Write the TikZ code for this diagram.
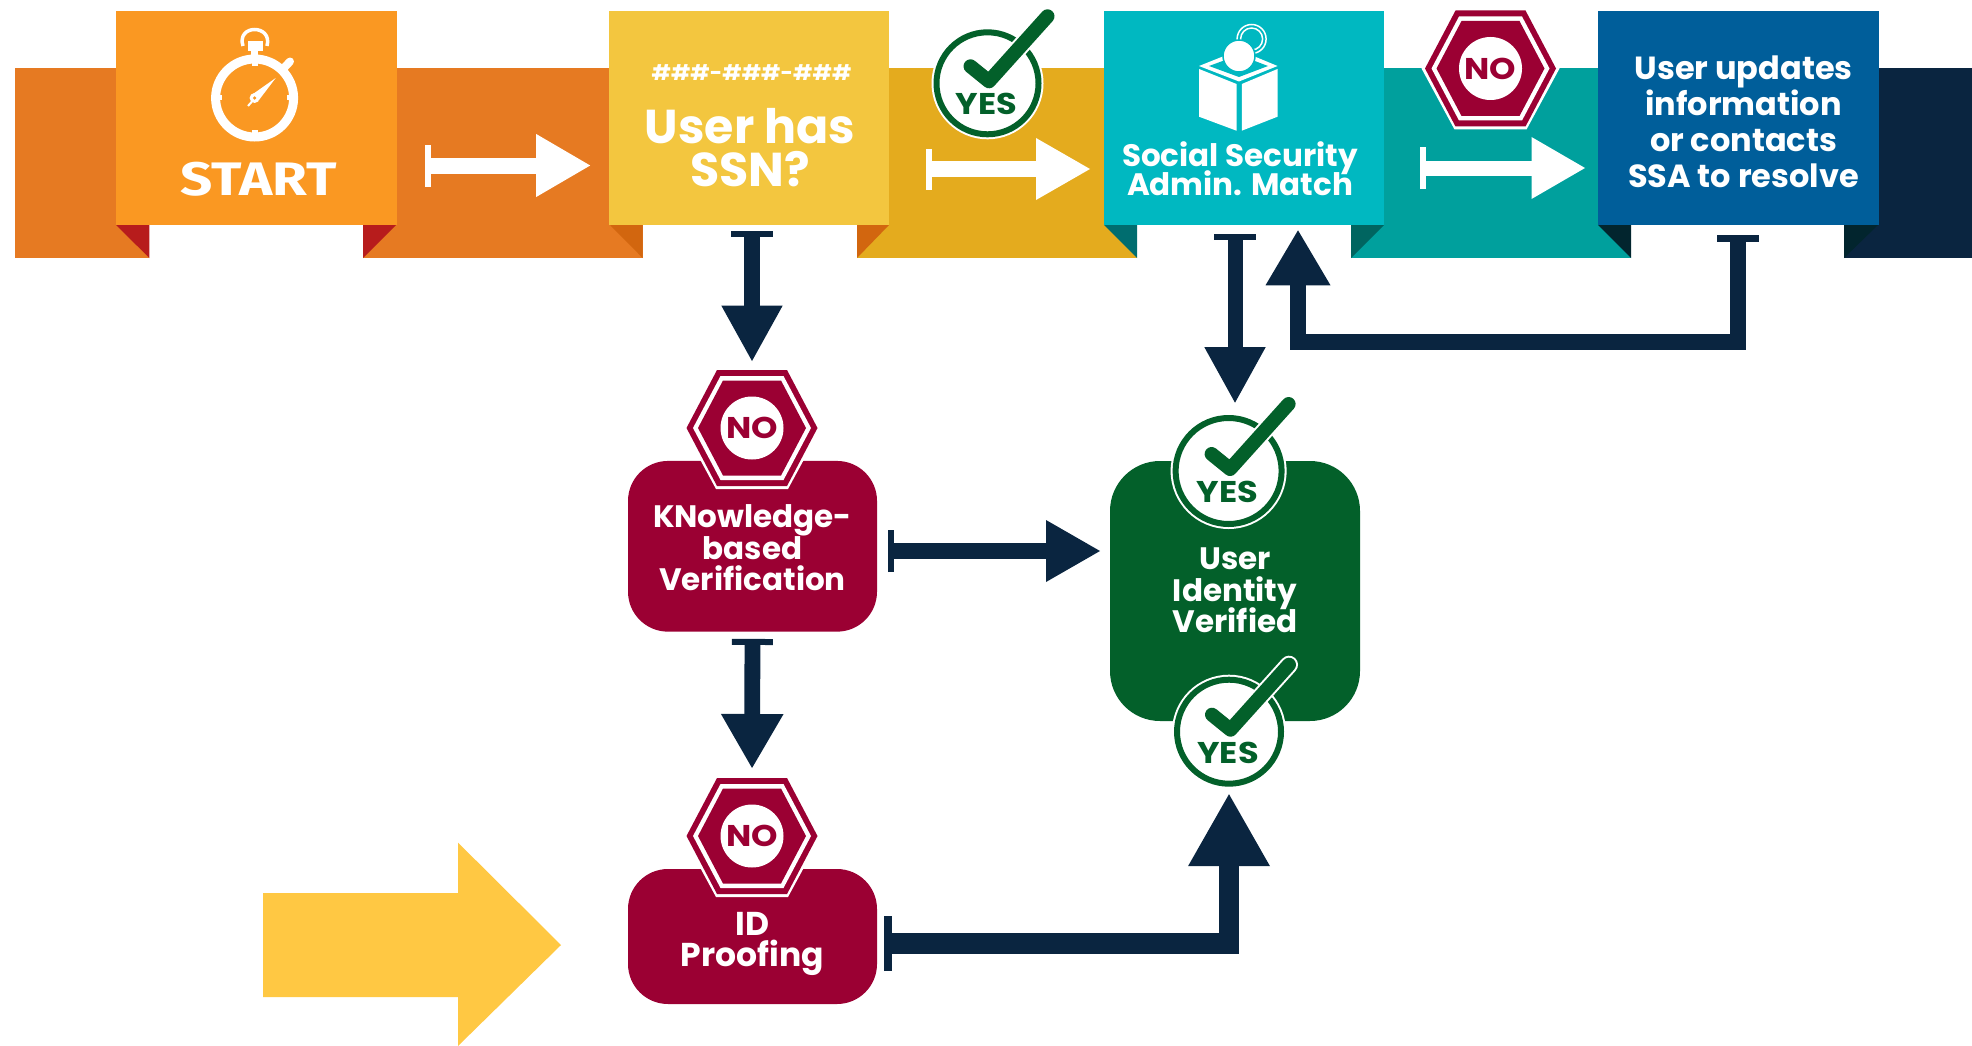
\documentclass[tikz,border=0pt]{standalone}
\usepackage{fontspec}
\setmainfont{Poppins}
\newfontfamily\din[FakeStretch=1.2]{Fira Sans}
\newfontfamily\popw[FakeStretch=1.12]{Poppins}
\usetikzlibrary{arrows.meta,calc}
\definecolor{navy}{HTML}{0A2540}
\definecolor{maroon}{HTML}{9B0033}
\definecolor{forest}{HTML}{03602A}
\definecolor{orbox}{HTML}{FA9822}
\definecolor{orband}{HTML}{E67A22}
\definecolor{ylbox}{HTML}{F3C63F}
\definecolor{ylband}{HTML}{E4AB1E}
\definecolor{tlbox}{HTML}{00B8C1}
\definecolor{tlband}{HTML}{00A09D}
\definecolor{blbox}{HTML}{005E9A}
\definecolor{dkred}{HTML}{B71C1C}
\definecolor{dkor}{HTML}{D2660F}
\definecolor{dktl}{HTML}{006D6F}
\definecolor{dktlb}{HTML}{006560}
\definecolor{dknavy}{HTML}{02252E}
\definecolor{bigarrow}{HTML}{FFC843}
\newcommand{\tightl}{\lineskiplimit=-100pt\relax}
\tikzset{
  boxn/.style={rectangle,minimum width=#1,inner sep=0pt,outer sep=0pt,minimum height=214pt},
  rbox/.style={rectangle,rounded corners=40pt,fill=maroon,inner sep=0pt,outer sep=0pt,minimum width=249pt},
  lab/.style={text=white,font=\bfseries\fontsize{31}{31.5}\selectfont\tightl,align=center,inner sep=0pt},
  blockarrow/.style n args={6}{line width=#2,draw=#1,
    {Bar[width=#5,line width=#6]}-{Triangle[length=#3,width=#4,line width=0pt]}},
}
\newcommand{\yesbadge}[5]{% name, x, y, r, tip x
  \fill[white] (#2,#3) circle (#4+5);
  \node[circle,draw=forest,fill=white,line width=6pt,minimum size=2*#4*1pt,inner sep=0pt,outer sep=4pt] (#1) at (#2,#3) {};
  \draw[white,line width=18pt,line cap=round,line join=round] ($(#2,#3)+(-17,-17)$) -- ($(#2,#3)+(1.5,-2)$) -- ($(#2,#3)+(#5,-67)$);
  \draw[forest,line width=14pt,line cap=round,line join=round] ($(#2,#3)+(-17,-17)$) -- ($(#2,#3)+(1.5,-2)$) -- ($(#2,#3)+(#5,-67)$);
  \node[text=forest,font=\popw\bfseries\fontsize{30}{30}\selectfont,inner sep=0pt] (#1t) at ($(#2,#3)+(-1,21)$) {YES};
}
\newcommand{\nohex}[3]{% name,x,y
  \begin{scope}[shift={(#2,#3)}]
    \fill[white] (-69,0)--(-36,-61)--(36,-61)--(69,0)--(36,61)--(-36,61)--cycle;
    \fill[maroon] (-65.5,0)--(-35,-58)--(35,-58)--(65.5,0)--(35,58)--(-35,58)--cycle;
    \fill[white] (-59,0)--(-31.5,-52)--(31.5,-52)--(59,0)--(31.5,52)--(-31.5,52)--cycle;
    \fill[maroon] (-54,0)--(-29,-47.5)--(29,-47.5)--(54,0)--(29,47.5)--(-29,47.5)--cycle;
    \fill[white] (0,0) circle (31.5);
  \end{scope}
  \node[rectangle,minimum width=131pt,minimum height=116pt,inner sep=0pt,outer sep=0pt] (#1) at (#2,#3) {};
  \node[text=maroon,font=\popw\bfseries\fontsize{30}{30}\selectfont,inner sep=0pt] (#1t) at (#2,#3) {NO};
}
\begin{document}
\begin{tikzpicture}[x=1pt,y=-1pt]
\useasboundingbox (0,0) rectangle (1972,1046);
% ribbon bands
\fill[orband] (15,68) rectangle (149,258);
\fill[orband] (363,68) rectangle (642.7,258);
\fill[ylband] (857,68) rectangle (1137,258);
\fill[tlband] (1351,68) rectangle (1631,258);
\fill[navy] (1844,68) rectangle (1972,258);
% folds
\fill[dkred] (116,225)--(149.4,225)--(149.4,258)--cycle;
\fill[dkred] (396,225)--(363,225)--(363,258)--cycle;
\fill[dkor] (610,225)--(642.7,225)--(642.7,258)--cycle;
\fill[dkor] (889,225)--(857,225)--(857,258)--cycle;
\fill[dktl] (1104,225)--(1137,225)--(1137,258)--cycle;
\fill[dktlb] (1384,225)--(1351,225)--(1351,258)--cycle;
\fill[dknavy] (1598,225)--(1631,225)--(1631,258)--cycle;
\fill[dknavy] (1878,225)--(1844,225)--(1844,258)--cycle;
% header boxes
\node[boxn=281pt,fill=orbox] (startbox) at (256,118.3) {};
\node[boxn=280pt,fill=ylbox] (ssnbox) at (749.2,118.3) {};
\node[boxn=280.4pt,fill=tlbox] (ssabox) at (1244.2,118.3) {};
\node[boxn=280.6pt,fill=blbox] (updbox) at (1738.3,118.3) {};
% stopwatch
\draw[white,line width=9pt] (254.6,98) circle (39);
\foreach \a/\b/\c/\d in {252/56/257.5/66, 252/130/257.5/140, 212/95.5/222/100.5, 287/95.5/297/100.5}
  \fill[white] (\a,\b) rectangle (\c,\d);
\fill[white] (247.5,40.7) rectangle (263,50.7);
\fill[white] (251,50) rectangle (258,56);
\draw[white,line width=3.5pt] (243,46) .. controls (236,24) and (273,24) .. (267,46);
\draw[white,line width=8pt,line cap=round] (283,69) -- (290,61.5);
\fill[white] (275.7,78)--(259,100)--(253,94)--cycle;
\draw[white,line width=2pt] (256,97) -- (248,106);
\fill[white] (254.6,98) circle (5);
\fill[orbox] (254.6,98) circle (1.8);
\node[text=white,font=\din\bfseries\fontsize{47}{47}\selectfont,inner sep=0pt,anchor=base] (starttxt) at (258.5,195) {START};
% ballot box
\fill[white] (1199,69)--(1236.5,84)--(1236.5,130.7)--(1199,116.7)--cycle;
\fill[white] (1241.8,84)--(1277.5,69)--(1277.5,116.7)--(1241.8,130.7)--cycle;
\fill[white] (1199,66)--(1239,50)--(1277.5,66)--(1239,81.5)--cycle;
\fill[tlbox] (1209,66)--(1239,55)--(1268,66)--(1239,77)--cycle;
\draw[white,line width=1.5pt] (1251.6,39) circle (14.5);
\draw[white,line width=1.5pt] (1251.6,39) circle (11);
\fill[white,draw=tlbox,line width=1.5pt] (1239,56) circle (16);
% labels in header
\node[text=white,font=\bfseries\fontsize{21.5}{22}\selectfont,inner sep=0pt,anchor=base] (ssnfmt) at (751.5,81) {\#\#\#-\#\#\#-\#\#\#};
\node[lab,font=\bfseries\fontsize{47.5}{43}\selectfont\tightl] (ssntxt) at (750,148) {User has\\SSN?};
\node[lab,font=\bfseries\fontsize{31}{29}\selectfont\tightl] (ssatxt) at (1240,169) {Social Security\\Admin. Match};
\node[lab,font=\bfseries\fontsize{32}{36}\selectfont\tightl] (updtxt) at (1743.6,122) {User updates\\information\\or contacts\\SSA to resolve};
% rounded boxes
\node[rbox,minimum height=170.7pt] (kbv) at (752.5,546.3) {};
\node[rbox,minimum height=135pt] (idbox) at (752.5,936.5) {};
\node[rectangle,rounded corners=50pt,fill=forest,minimum width=250pt,minimum height=260pt,inner sep=0pt,outer sep=0pt] (verified) at (1235,591) {};
\node[lab] (kbvtxt) at (752.5,548) {KNowledge-\\based\\Verification};
\node[lab,font=\bfseries\fontsize{33}{31.5}\selectfont\tightl] (idtxt) at (752.5,944) {ID\\Proofing};
\node[lab] (vertxt) at (1235,590.5) {User\\Identity\\Verified};
% badges
\yesbadge{yesa}{987.5}{83.3}{51}{60}
\nohex{noa}{1490.5}{68.5}
\nohex{nob}{752}{428}
\nohex{noc}{752}{836}
\yesbadge{yesb}{1228.6}{471}{53}{60}
\yesbadge{yesc}{1229}{731.7}{52}{60}
% white flow arrows
\draw[blockarrow={white}{16pt}{54pt}{63pt}{42pt}{6.4pt},shorten <=28.5pt,shorten >=19pt] ([yshift=-47.2pt]startbox.east) -- ([yshift=-47.2pt]ssnbox.west);
\draw[blockarrow={white}{16pt}{54pt}{62pt}{41pt}{6pt},shorten <=36.7pt,shorten >=14pt] ([yshift=-50.7pt]ssnbox.east) -- ([yshift=-50.7pt]ssabox.west);
\draw[blockarrow={white}{15pt}{53.5pt}{62pt}{42pt}{6.4pt},shorten <=35.6pt,shorten >=13pt] ([yshift=-49.7pt]ssabox.east) -- ([yshift=-49.7pt]updbox.west);
% navy connectors
\draw[blockarrow={navy}{16.4pt}{55.4pt}{61.4pt}{41.6pt}{6pt},shorten <=6pt,shorten >=9pt] (ssnbox.south -| nob.north) -- (nob.north);
\draw[blockarrow={navy}{15.8pt}{54pt}{62.6pt}{41pt}{6pt},shorten <=7.3pt,shorten >=10pt] (kbv.south) -- (noc.north);
\draw[blockarrow={navy}{15pt}{55.7pt}{61.5pt}{41.5pt}{5.5pt},shorten <=9pt,shorten >=58.3pt] (ssabox.south -| verified.north) -- (verified.north);
\coordinate (kbvout) at ([yshift=-4.7pt]kbv.east);
\draw[blockarrow={navy}{16pt}{54pt}{62pt}{42pt}{6.4pt},shorten <=11pt,shorten >=10pt] (kbvout) -- (kbvout -| verified.west);
\coordinate (fbturn) at (1298,341.5);
\draw[blockarrow={navy}{16pt}{55pt}{65pt}{42pt}{6.7pt},shorten <=10pt,shorten >=5pt] (updbox.south) |- (fbturn) -- (fbturn |- ssabox.south);
\coordinate (idout) at ([yshift=-7pt]idbox.east);
\draw[blockarrow={navy}{20.5pt}{72pt}{82pt}{55pt}{8.3pt},shorten <=7pt,shorten >=6.5pt] (idout) -| (yesc.south);
% big arrow
\fill[bigarrow] (263,893)--(458,893)--(458,842.6)--(561,945)--(458,1046)--(458,997)--(263,997)--cycle;
\end{tikzpicture}
\end{document}
